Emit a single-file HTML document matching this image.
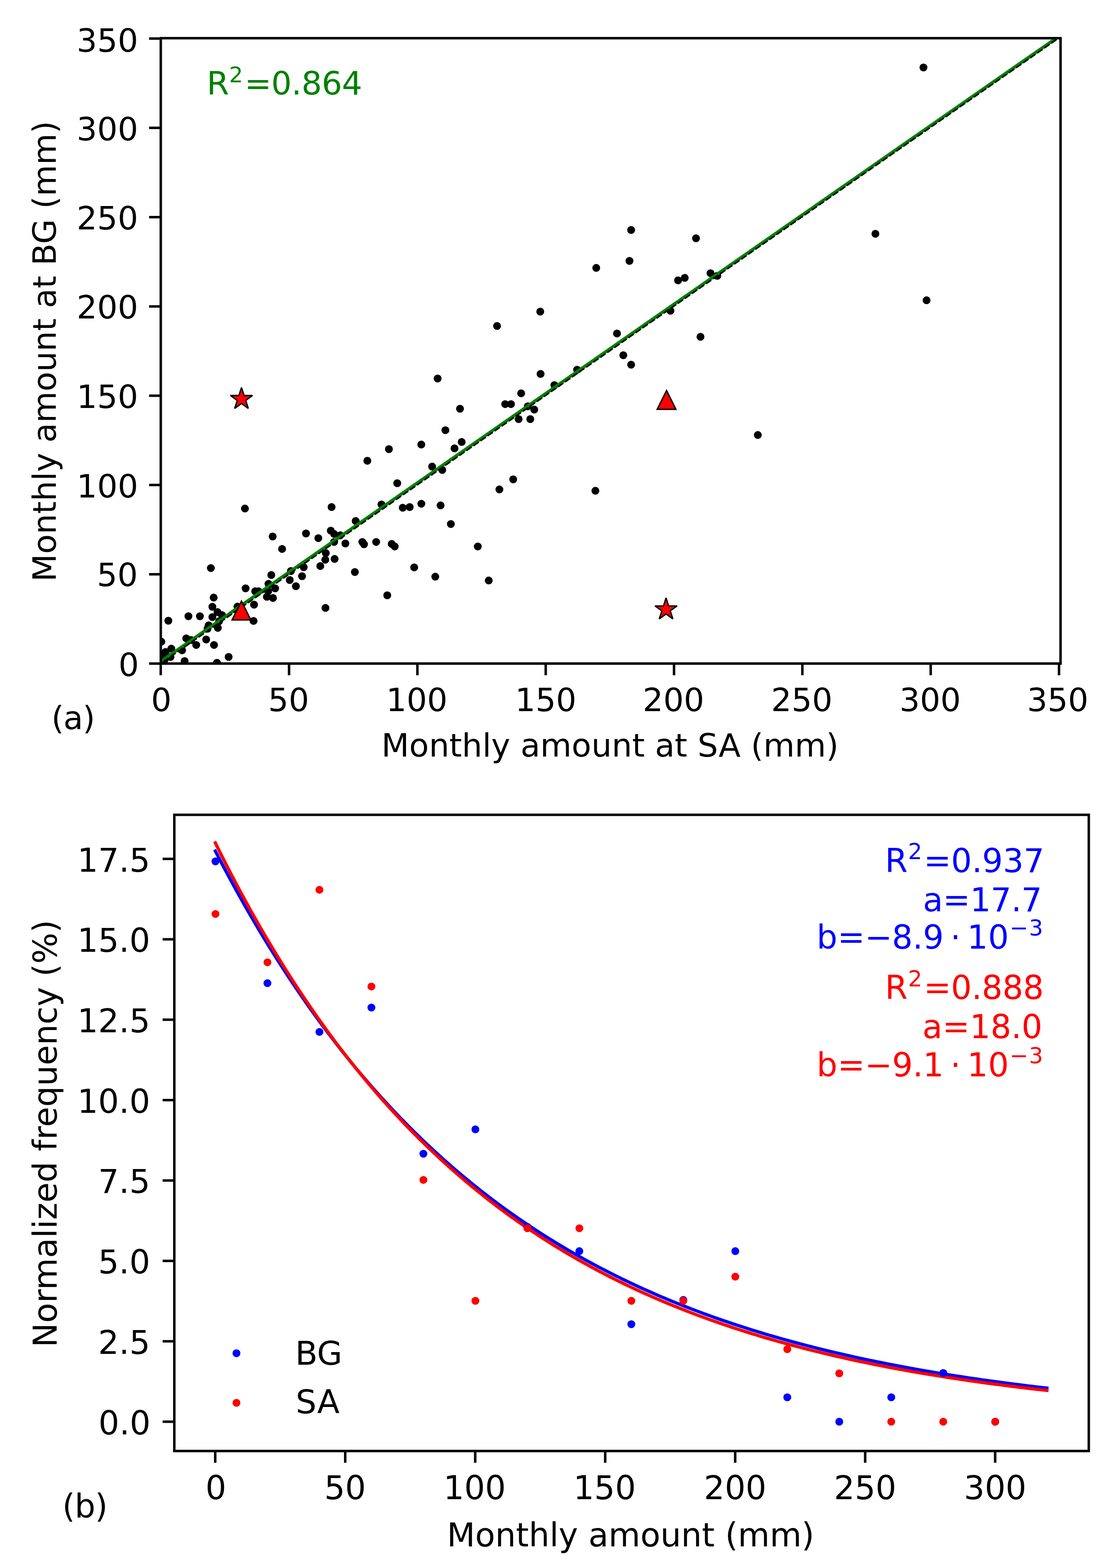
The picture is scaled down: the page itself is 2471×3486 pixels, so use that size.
<!DOCTYPE html>
<html lang="en"><head><meta charset="utf-8"><title>Monthly amount scatter and frequency plots</title>
<style>html,body{margin:0;padding:0;background:#fff;}svg{display:block;}</style>
</head><body>
<svg width="2471" height="3486" viewBox="0 0 2471 3486">
<rect width="2471" height="3486" fill="#fff"/>
<svg x="357.6" y="84.9" width="2001.2" height="1390.3" viewBox="357.6 84.9 2001.2 1390.3" overflow="hidden">
<g fill="#000"><circle cx="544.7" cy="1130.6" r="8.75"/><circle cx="737.5" cy="1127.3" r="8.75"/><circle cx="883.5" cy="1074.3" r="8.75"/><circle cx="848.4" cy="1121.4" r="8.75"/><circle cx="895.7" cy="1128.8" r="8.75"/><circle cx="911.2" cy="1127.3" r="8.75"/><circle cx="937.1" cy="1119.9" r="8.75"/><circle cx="791.1" cy="1158.3" r="8.75"/><circle cx="606.4" cy="1192.7" r="8.75"/><circle cx="680.6" cy="1186" r="8.75"/><circle cx="708" cy="1196.4" r="8.75"/><circle cx="735.7" cy="1179.8" r="8.75"/><circle cx="743.1" cy="1187.1" r="8.75"/><circle cx="756.8" cy="1190.1" r="8.75"/><circle cx="743.1" cy="1204.9" r="8.75"/><circle cx="768.2" cy="1208.2" r="8.75"/><circle cx="805.9" cy="1204.9" r="8.75"/><circle cx="809.6" cy="1210" r="8.75"/><circle cx="836.6" cy="1204.9" r="8.75"/><circle cx="871.3" cy="1209.3" r="8.75"/><circle cx="877.9" cy="1214.9" r="8.75"/><circle cx="627.4" cy="1220.4" r="8.75"/><circle cx="724.6" cy="1229.6" r="8.75"/><circle cx="723.5" cy="1244.4" r="8.75"/><circle cx="744.2" cy="1242.6" r="8.75"/><circle cx="712.4" cy="1258.4" r="8.75"/><circle cx="921.2" cy="1261.4" r="8.75"/><circle cx="789.3" cy="1271.7" r="8.75"/><circle cx="469" cy="1262.9" r="8.75"/><circle cx="675.5" cy="1261" r="8.75"/><circle cx="647" cy="1269.5" r="8.75"/><circle cx="671.8" cy="1281" r="8.75"/><circle cx="603.4" cy="1278.4" r="8.75"/><circle cx="644.4" cy="1289.5" r="8.75"/><circle cx="658.1" cy="1303.2" r="8.75"/><circle cx="597.1" cy="1298" r="8.75"/><circle cx="611.9" cy="1308" r="8.75"/><circle cx="546.2" cy="1308" r="8.75"/><circle cx="567.6" cy="1314.6" r="8.75"/><circle cx="575" cy="1314.6" r="8.75"/><circle cx="596.4" cy="1314.6" r="8.75"/><circle cx="593.5" cy="1326.8" r="8.75"/><circle cx="607.1" cy="1329.4" r="8.75"/><circle cx="861.3" cy="1323.5" r="8.75"/><circle cx="723.9" cy="1351.6" r="8.75"/><circle cx="475.2" cy="1328.6" r="8.75"/><circle cx="472.3" cy="1349" r="8.75"/><circle cx="565" cy="1344.2" r="8.75"/><circle cx="483.7" cy="1360.8" r="8.75"/><circle cx="493.7" cy="1367.4" r="8.75"/><circle cx="472.3" cy="1371.9" r="8.75"/><circle cx="419.1" cy="1370" r="8.75"/><circle cx="444.6" cy="1370" r="8.75"/><circle cx="374.4" cy="1380" r="8.75"/><circle cx="487.4" cy="1381.1" r="8.75"/><circle cx="563.9" cy="1380.4" r="8.75"/><circle cx="528.1" cy="1348.6" r="8.75"/><circle cx="464.1" cy="1390.3" r="8.75"/><circle cx="461.6" cy="1397.7" r="8.75"/><circle cx="484.5" cy="1395.9" r="8.75"/><circle cx="414.3" cy="1419.2" r="8.75"/><circle cx="425.3" cy="1422.9" r="8.75"/><circle cx="458.6" cy="1421.7" r="8.75"/><circle cx="436.4" cy="1433.9" r="8.75"/><circle cx="476" cy="1433.9" r="8.75"/><circle cx="358.8" cy="1426.6" r="8.75"/><circle cx="405" cy="1445.8" r="8.75"/><circle cx="381" cy="1442.1" r="8.75"/><circle cx="368.1" cy="1449.5" r="8.75"/><circle cx="379.2" cy="1460.5" r="8.75"/><circle cx="508.5" cy="1460.5" r="8.75"/><circle cx="410.6" cy="1469.8" r="8.75"/><circle cx="482.6" cy="1473.5" r="8.75"/><circle cx="362" cy="1459" r="8.75"/><circle cx="366" cy="1467" r="8.75"/><circle cx="979.9" cy="1123.6" r="8.75"/><circle cx="1110.7" cy="1088.1" r="8.75"/><circle cx="1324.2" cy="1091.1" r="8.75"/><circle cx="1002.8" cy="1165" r="8.75"/><circle cx="1062.7" cy="1214.9" r="8.75"/><circle cx="968.1" cy="1282.1" r="8.75"/><circle cx="1087" cy="1290.6" r="8.75"/><circle cx="1201.6" cy="692.7" r="8.75"/><circle cx="1105.5" cy="724.8" r="8.75"/><circle cx="1372.3" cy="741.4" r="8.75"/><circle cx="973.3" cy="841.5" r="8.75"/><circle cx="1386.3" cy="789.8" r="8.75"/><circle cx="1403.7" cy="810.8" r="8.75"/><circle cx="1202.3" cy="831.2" r="8.75"/><circle cx="1283.6" cy="821.9" r="8.75"/><circle cx="1233" cy="856.3" r="8.75"/><circle cx="1159.1" cy="874.4" r="8.75"/><circle cx="1023.1" cy="908.7" r="8.75"/><circle cx="1123.6" cy="898.4" r="8.75"/><circle cx="1136.5" cy="898.4" r="8.75"/><circle cx="1173.9" cy="903.2" r="8.75"/><circle cx="1188.3" cy="910.6" r="8.75"/><circle cx="1153.5" cy="931.7" r="8.75"/><circle cx="1179.4" cy="931.7" r="8.75"/><circle cx="990.6" cy="956.4" r="8.75"/><circle cx="1026.8" cy="982.6" r="8.75"/><circle cx="1010.9" cy="996.7" r="8.75"/><circle cx="961.1" cy="1037.3" r="8.75"/><circle cx="983.6" cy="1044.7" r="8.75"/><circle cx="1141.4" cy="1065.8" r="8.75"/><circle cx="817" cy="1024.4" r="8.75"/><circle cx="865" cy="998.5" r="8.75"/><circle cx="937" cy="988.2" r="8.75"/><circle cx="1548" cy="529.8" r="8.75"/><circle cx="1508.1" cy="623.3" r="8.75"/><circle cx="1522.9" cy="617.7" r="8.75"/><circle cx="1580.2" cy="607.4" r="8.75"/><circle cx="1595.3" cy="613.3" r="8.75"/><circle cx="1947" cy="519.8" r="8.75"/><circle cx="2060.8" cy="667.6" r="8.75"/><circle cx="1491.2" cy="690.9" r="8.75"/><circle cx="1403.7" cy="511.3" r="8.75"/><circle cx="1400" cy="580" r="8.75"/><circle cx="1326.1" cy="595.6" r="8.75"/><circle cx="1558" cy="748.8" r="8.75"/><circle cx="1685.5" cy="967.1" r="8.75"/><circle cx="2053.9" cy="150" r="8.75"/></g>
<line x1="347.6" y1="1477.55" x2="2368.8" y2="71.19" stroke="#008000" stroke-width="7.1"/>
<line x1="347.6" y1="1482.11" x2="2368.8" y2="74.75" stroke="#000" stroke-width="3.5" stroke-dasharray="14.2 4.9"/>
</svg>
<polygon points="537,1336.4 516.1,1378.2 557.9,1378.2" fill="#ff0000" stroke="#000" stroke-width="3.0" stroke-linejoin="miter" stroke-miterlimit="10"/>
<polygon points="1482.5,868.2 1461.6,910 1503.4,910" fill="#ff0000" stroke="#000" stroke-width="3.0" stroke-linejoin="miter" stroke-miterlimit="10"/>
<polygon points="537.1,861.4 531.31,879.23 512.56,879.23 527.73,890.25 521.94,908.07 537.1,897.05 552.26,908.07 546.47,890.25 561.64,879.23 542.89,879.23" fill="#ff0000" stroke="#000" stroke-width="3.0" stroke-linejoin="bevel"/>
<polygon points="1481.4,1329.3 1475.61,1347.13 1456.86,1347.13 1472.03,1358.15 1466.24,1375.97 1481.4,1364.95 1496.56,1375.97 1490.77,1358.15 1505.94,1347.13 1487.19,1347.13" fill="#ff0000" stroke="#000" stroke-width="3.0" stroke-linejoin="bevel"/>
<rect x="357.6" y="84.9" width="2001.2" height="1390.3" fill="none" stroke="#000" stroke-width="5.5" stroke-linejoin="miter"/>
<path d="M357.5 1475.2V1501.2M357.6 1475.25H331.6M642.91 1475.2V1501.2M357.6 1276.74H331.6M928.33 1475.2V1501.2M357.6 1078.22H331.6M1213.74 1475.2V1501.2M357.6 879.71H331.6M1499.16 1475.2V1501.2M357.6 681.19H331.6M1784.58 1475.2V1501.2M357.6 482.68H331.6M2069.99 1475.2V1501.2M357.6 284.16H331.6M2355.41 1475.2V1501.2M357.6 85.64H331.6" stroke="#000" stroke-width="5.5" fill="none"/>
<svg x="387.7" y="1811.5" width="2033.9" height="1414.4" viewBox="387.7 1811.5 2033.9 1414.4" overflow="hidden">
<path d="M477.3 1888.89 L486.57 1906.83 L495.85 1924.51 L505.12 1941.94 L514.39 1959.12 L523.67 1976.06 L532.94 1992.77 L542.21 2009.23 L551.49 2025.47 L560.76 2041.48 L570.03 2057.26 L579.31 2072.82 L588.58 2088.16 L597.86 2103.28 L607.13 2118.19 L616.4 2132.89 L625.68 2147.38 L634.95 2161.67 L644.22 2175.76 L653.5 2189.64 L662.77 2203.34 L672.04 2216.83 L681.32 2230.14 L690.59 2243.26 L699.86 2256.2 L709.14 2268.95 L718.41 2281.53 L727.68 2293.92 L736.96 2306.15 L746.23 2318.2 L755.5 2330.07 L764.78 2341.79 L774.05 2353.33 L783.33 2364.72 L792.6 2375.94 L801.87 2387.01 L811.15 2397.92 L820.42 2408.67 L829.69 2419.27 L838.97 2429.73 L848.24 2440.04 L857.51 2450.2 L866.79 2460.22 L876.06 2470.09 L885.33 2479.83 L894.61 2489.43 L903.88 2498.9 L913.15 2508.23 L922.43 2517.43 L931.7 2526.5 L940.98 2535.44 L950.25 2544.26 L959.52 2552.95 L968.8 2561.52 L978.07 2569.97 L987.34 2578.3 L996.62 2586.51 L1005.89 2594.6 L1015.16 2602.59 L1024.44 2610.45 L1033.71 2618.21 L1042.98 2625.86 L1052.26 2633.4 L1061.53 2640.84 L1070.8 2648.17 L1080.08 2655.4 L1089.35 2662.52 L1098.62 2669.54 L1107.9 2676.47 L1117.17 2683.3 L1126.44 2690.03 L1135.72 2696.67 L1144.99 2703.21 L1154.27 2709.66 L1163.54 2716.02 L1172.81 2722.29 L1182.09 2728.47 L1191.36 2734.57 L1200.63 2740.57 L1209.91 2746.5 L1219.18 2752.34 L1228.45 2758.1 L1237.73 2763.77 L1247 2769.37 L1256.27 2774.89 L1265.55 2780.33 L1274.82 2785.69 L1284.09 2790.98 L1293.37 2796.19 L1302.64 2801.33 L1311.91 2806.4 L1321.19 2811.39 L1330.46 2816.32 L1339.74 2821.18 L1349.01 2825.96 L1358.28 2830.68 L1367.56 2835.34 L1376.83 2839.92 L1386.1 2844.45 L1395.38 2848.91 L1404.65 2853.3 L1413.92 2857.64 L1423.2 2861.91 L1432.47 2866.12 L1441.74 2870.28 L1451.02 2874.37 L1460.29 2878.41 L1469.56 2882.39 L1478.84 2886.31 L1488.11 2890.18 L1497.38 2894 L1506.66 2897.76 L1515.93 2901.46 L1525.21 2905.12 L1534.48 2908.72 L1543.75 2912.28 L1553.03 2915.78 L1562.3 2919.23 L1571.57 2922.64 L1580.85 2925.99 L1590.12 2929.3 L1599.39 2932.57 L1608.67 2935.78 L1617.94 2938.95 L1627.21 2942.08 L1636.49 2945.16 L1645.76 2948.2 L1655.03 2951.2 L1664.31 2954.15 L1673.58 2957.07 L1682.86 2959.94 L1692.13 2962.77 L1701.4 2965.56 L1710.68 2968.31 L1719.95 2971.02 L1729.22 2973.7 L1738.5 2976.33 L1747.77 2978.93 L1757.04 2981.5 L1766.32 2984.02 L1775.59 2986.51 L1784.86 2988.97 L1794.14 2991.39 L1803.41 2993.78 L1812.68 2996.13 L1821.96 2998.45 L1831.23 3000.74 L1840.5 3003 L1849.78 3005.22 L1859.05 3007.41 L1868.33 3009.57 L1877.6 3011.7 L1886.87 3013.81 L1896.15 3015.88 L1905.42 3017.92 L1914.69 3019.93 L1923.97 3021.92 L1933.24 3023.87 L1942.51 3025.8 L1951.79 3027.7 L1961.06 3029.58 L1970.33 3031.43 L1979.61 3033.25 L1988.88 3035.05 L1998.15 3036.82 L2007.43 3038.57 L2016.7 3040.29 L2025.97 3041.99 L2035.25 3043.66 L2044.52 3045.31 L2053.8 3046.94 L2063.07 3048.54 L2072.34 3050.12 L2081.62 3051.68 L2090.89 3053.22 L2100.16 3054.74 L2109.44 3056.23 L2118.71 3057.7 L2127.98 3059.15 L2137.26 3060.59 L2146.53 3062 L2155.8 3063.39 L2165.08 3064.76 L2174.35 3066.11 L2183.62 3067.45 L2192.9 3068.76 L2202.17 3070.06 L2211.44 3071.34 L2220.72 3072.6 L2229.99 3073.84 L2239.26 3075.06 L2248.54 3076.27 L2257.81 3077.46 L2267.09 3078.64 L2276.36 3079.79 L2285.63 3080.93 L2294.91 3082.06 L2304.18 3083.17 L2313.45 3084.26 L2322.73 3085.34 L2332 3086.4" stroke="#0000ff" stroke-width="7.1" fill="none"/>
<path d="M477.3 1870.66 L486.57 1889.4 L495.85 1907.87 L505.12 1926.07 L514.39 1944.01 L523.67 1961.69 L532.94 1979.11 L542.21 1996.27 L551.49 2013.19 L560.76 2029.86 L570.03 2046.29 L579.31 2062.48 L588.58 2078.43 L597.86 2094.16 L607.13 2109.65 L616.4 2124.92 L625.68 2139.97 L634.95 2154.8 L644.22 2169.41 L653.5 2183.81 L662.77 2198.01 L672.04 2211.99 L681.32 2225.77 L690.59 2239.36 L699.86 2252.74 L709.14 2265.93 L718.41 2278.93 L727.68 2291.74 L736.96 2304.37 L746.23 2316.81 L755.5 2329.07 L764.78 2341.15 L774.05 2353.06 L783.33 2364.79 L792.6 2376.35 L801.87 2387.75 L811.15 2398.98 L820.42 2410.04 L829.69 2420.95 L838.97 2431.7 L848.24 2442.29 L857.51 2452.72 L866.79 2463.01 L876.06 2473.14 L885.33 2483.13 L894.61 2492.98 L903.88 2502.68 L913.15 2512.24 L922.43 2521.66 L931.7 2530.94 L940.98 2540.09 L950.25 2549.11 L959.52 2557.99 L968.8 2566.75 L978.07 2575.38 L987.34 2583.88 L996.62 2592.26 L1005.89 2600.52 L1015.16 2608.66 L1024.44 2616.68 L1033.71 2624.58 L1042.98 2632.37 L1052.26 2640.05 L1061.53 2647.61 L1070.8 2655.06 L1080.08 2662.41 L1089.35 2669.65 L1098.62 2676.78 L1107.9 2683.81 L1117.17 2690.74 L1126.44 2697.57 L1135.72 2704.3 L1144.99 2710.93 L1154.27 2717.46 L1163.54 2723.9 L1172.81 2730.25 L1182.09 2736.5 L1191.36 2742.66 L1200.63 2748.74 L1209.91 2754.72 L1219.18 2760.62 L1228.45 2766.43 L1237.73 2772.16 L1247 2777.8 L1256.27 2783.37 L1265.55 2788.85 L1274.82 2794.25 L1284.09 2799.58 L1293.37 2804.82 L1302.64 2809.99 L1311.91 2815.09 L1321.19 2820.11 L1330.46 2825.06 L1339.74 2829.93 L1349.01 2834.74 L1358.28 2839.47 L1367.56 2844.14 L1376.83 2848.74 L1386.1 2853.27 L1395.38 2857.74 L1404.65 2862.14 L1413.92 2866.48 L1423.2 2870.75 L1432.47 2874.96 L1441.74 2879.11 L1451.02 2883.21 L1460.29 2887.24 L1469.56 2891.21 L1478.84 2895.12 L1488.11 2898.98 L1497.38 2902.78 L1506.66 2906.53 L1515.93 2910.22 L1525.21 2913.86 L1534.48 2917.45 L1543.75 2920.98 L1553.03 2924.47 L1562.3 2927.9 L1571.57 2931.28 L1580.85 2934.61 L1590.12 2937.9 L1599.39 2941.13 L1608.67 2944.32 L1617.94 2947.47 L1627.21 2950.57 L1636.49 2953.62 L1645.76 2956.63 L1655.03 2959.59 L1664.31 2962.51 L1673.58 2965.39 L1682.86 2968.23 L1692.13 2971.03 L1701.4 2973.78 L1710.68 2976.5 L1719.95 2979.17 L1729.22 2981.81 L1738.5 2984.41 L1747.77 2986.97 L1757.04 2989.49 L1766.32 2991.98 L1775.59 2994.43 L1784.86 2996.85 L1794.14 2999.23 L1803.41 3001.57 L1812.68 3003.89 L1821.96 3006.16 L1831.23 3008.41 L1840.5 3010.62 L1849.78 3012.8 L1859.05 3014.95 L1868.33 3017.07 L1877.6 3019.16 L1886.87 3021.21 L1896.15 3023.24 L1905.42 3025.24 L1914.69 3027.2 L1923.97 3029.14 L1933.24 3031.05 L1942.51 3032.94 L1951.79 3034.79 L1961.06 3036.62 L1970.33 3038.43 L1979.61 3040.2 L1988.88 3041.95 L1998.15 3043.68 L2007.43 3045.38 L2016.7 3047.05 L2025.97 3048.7 L2035.25 3050.33 L2044.52 3051.93 L2053.8 3053.51 L2063.07 3055.07 L2072.34 3056.61 L2081.62 3058.12 L2090.89 3059.61 L2100.16 3061.08 L2109.44 3062.52 L2118.71 3063.95 L2127.98 3065.36 L2137.26 3066.74 L2146.53 3068.11 L2155.8 3069.45 L2165.08 3070.78 L2174.35 3072.08 L2183.62 3073.37 L2192.9 3074.64 L2202.17 3075.89 L2211.44 3077.12 L2220.72 3078.34 L2229.99 3079.53 L2239.26 3080.71 L2248.54 3081.87 L2257.81 3083.02 L2267.09 3084.15 L2276.36 3085.26 L2285.63 3086.36 L2294.91 3087.44 L2304.18 3088.5 L2313.45 3089.55 L2322.73 3090.58 L2332 3091.6" stroke="#ff0000" stroke-width="7.1" fill="none"/>
<g fill="#0000ff"><circle cx="479.2" cy="1915.04" r="8.75"/><circle cx="594.82" cy="2185.84" r="8.75"/><circle cx="710.44" cy="2294.15" r="8.75"/><circle cx="826.06" cy="2240" r="8.75"/><circle cx="941.68" cy="2564.95" r="8.75"/><circle cx="1057.3" cy="2510.79" r="8.75"/><circle cx="1172.92" cy="2727.43" r="8.75"/><circle cx="1288.54" cy="2781.59" r="8.75"/><circle cx="1404.16" cy="2944.06" r="8.75"/><circle cx="1519.78" cy="2889.9" r="8.75"/><circle cx="1635.4" cy="2781.59" r="8.75"/><circle cx="1751.02" cy="3106.54" r="8.75"/><circle cx="1866.64" cy="3160.7" r="8.75"/><circle cx="1982.26" cy="3106.54" r="8.75"/><circle cx="2097.88" cy="3052.38" r="8.75"/><circle cx="2213.5" cy="3160.7" r="8.75"/></g>
<g fill="#ff0000"><circle cx="479.2" cy="2031.91" r="8.75"/><circle cx="594.82" cy="2139.41" r="8.75"/><circle cx="710.44" cy="1978.16" r="8.75"/><circle cx="826.06" cy="2193.17" r="8.75"/><circle cx="941.68" cy="2623.18" r="8.75"/><circle cx="1057.3" cy="2891.94" r="8.75"/><circle cx="1172.92" cy="2730.68" r="8.75"/><circle cx="1288.54" cy="2730.68" r="8.75"/><circle cx="1404.16" cy="2891.94" r="8.75"/><circle cx="1519.78" cy="2891.94" r="8.75"/><circle cx="1635.4" cy="2838.19" r="8.75"/><circle cx="1751.02" cy="2999.44" r="8.75"/><circle cx="1866.64" cy="3053.2" r="8.75"/><circle cx="1982.26" cy="3160.7" r="8.75"/><circle cx="2097.88" cy="3160.7" r="8.75"/><circle cx="2213.5" cy="3160.7" r="8.75"/></g>
</svg>
<circle cx="525.9" cy="3008.5" r="8.75" fill="#0000ff"/>
<circle cx="525.9" cy="3118.8" r="8.75" fill="#ff0000"/>
<rect x="387.7" y="1811.5" width="2033.9" height="1414.4" fill="none" stroke="#000" stroke-width="5.5" stroke-linejoin="miter"/>
<path d="M478.7 3225.9V3251.9M767.82 3225.9V3251.9M1056.93 3225.9V3251.9M1346.05 3225.9V3251.9M1635.16 3225.9V3251.9M1924.28 3225.9V3251.9M2213.39 3225.9V3251.9M387.7 3160.7H361.7M387.7 2981.97H361.7M387.7 2803.25H361.7M387.7 2624.52H361.7M387.7 2445.8H361.7M387.7 2267.07H361.7M387.7 2088.35H361.7M387.7 1909.62H361.7" stroke="#000" stroke-width="5.5" fill="none"/>
<g font-family="'DejaVu Sans', 'Liberation Sans', sans-serif">
<text x="263.53" y="1503.05" font-size="71.6" fill="#000">0</text>
<text x="335.93" y="1580.8" font-size="71.6" fill="#000">0</text>
<text x="215.48" y="1303.44" font-size="71.6" fill="#000">50</text>
<text x="596.36" y="1580.8" font-size="71.6" fill="#000">50</text>
<text x="170.54" y="1105.82" font-size="71.6" fill="#000">100</text>
<text x="858.69" y="1580.8" font-size="71.6" fill="#000">100</text>
<text x="170.54" y="907.31" font-size="71.6" fill="#000">150</text>
<text x="1145.49" y="1580.8" font-size="71.6" fill="#000">150</text>
<text x="170.54" y="708.29" font-size="71.6" fill="#000">200</text>
<text x="1429.58" y="1580.8" font-size="71.6" fill="#000">200</text>
<text x="170.54" y="510.28" font-size="71.6" fill="#000">250</text>
<text x="1714.98" y="1580.8" font-size="71.6" fill="#000">250</text>
<text x="170.54" y="311.76" font-size="71.6" fill="#000">300</text>
<text x="2000.48" y="1580.8" font-size="71.6" fill="#000">300</text>
<text x="170.54" y="114.64" font-size="71.6" fill="#000">350</text>
<text x="2284.18" y="1580.8" font-size="71.6" fill="#000">350</text>
<text x="848.34" y="1682.1" font-size="71.6" fill="#000">Monthly amount at SA (mm)</text>
<text transform="translate(123.8 1293.36) rotate(-90)" font-size="71.6" fill="#000">Monthly amount at BG (mm)</text>
<text x="114.23" y="1621" font-size="71.6" fill="#000" textLength="97.44" lengthAdjust="spacing">(a)</text>
<text x="459.84" y="210.4" font-size="71.6" fill="#008000">R</text>
<text x="509.45" y="182.6" font-size="48.69" fill="#008000">2</text>
<text x="543.94" y="210.4" font-size="71.6" fill="#008000" textLength="261.99" lengthAdjust="spacing">=0.864</text>
<text x="219.12" y="3188.6" font-size="72.8" fill="#000">0.0</text>
<text x="218.22" y="3009.88" font-size="72.8" fill="#000">2.5</text>
<text x="218.22" y="2831.15" font-size="72.8" fill="#000">5.0</text>
<text x="218.22" y="2652.42" font-size="72.8" fill="#000">7.5</text>
<text x="171.91" y="2473.7" font-size="72.8" fill="#000">10.0</text>
<text x="171.91" y="2294.97" font-size="72.8" fill="#000">12.5</text>
<text x="171.91" y="2116.25" font-size="72.8" fill="#000">15.0</text>
<text x="171.91" y="1937.53" font-size="72.8" fill="#000">17.5</text>
<text x="456.95" y="3333" font-size="72.8" fill="#000">0</text>
<text x="721.3" y="3333" font-size="72.8" fill="#000">50</text>
<text x="986.15" y="3333" font-size="72.8" fill="#000">100</text>
<text x="1275.27" y="3333" font-size="72.8" fill="#000">150</text>
<text x="1565.59" y="3333" font-size="72.8" fill="#000">200</text>
<text x="1854.71" y="3333" font-size="72.8" fill="#000">250</text>
<text x="2143.82" y="3333" font-size="72.8" fill="#000">300</text>
<text x="994.02" y="3437.5" font-size="72.8" fill="#000">Monthly amount (mm)</text>
<text transform="translate(125.6 2995.38) rotate(-90)" font-size="72.8" fill="#000">Normalized frequency (%)</text>
<text x="138.43" y="3374.1" font-size="72.8" fill="#000" textLength="101.13" lengthAdjust="spacing">(b)</text>
<text x="656.42" y="3033.9" font-size="72.8" fill="#000">BG</text>
<text x="657.85" y="3142.1" font-size="72.8" fill="#000">SA</text>
<text x="1968.32" y="1938.7" font-size="72.8" fill="#0000ff">R</text>
<text x="2019.49" y="1909.5" font-size="49.5" fill="#0000ff">2</text>
<text x="2054.51" y="1938.7" font-size="72.8" fill="#0000ff" textLength="268.31" lengthAdjust="spacing">=0.937</text>
<text x="2052.85" y="2025.9" font-size="72.8" fill="#0000ff" textLength="265.08" lengthAdjust="spacing">a=17.7</text>
<text x="1816.33" y="2109.4" font-size="72.8" fill="#0000ff" textLength="107.39" lengthAdjust="spacing">b=</text>
<text x="1923.21" y="2109.4" font-size="72.8" fill="#0000ff" textLength="175.78" lengthAdjust="spacing">−8.9</text>
<text x="2113.41" y="2109.4" font-size="72.8" fill="#0000ff">⋅</text>
<text x="2151.01" y="2109.4" font-size="72.8" fill="#0000ff" textLength="92.86" lengthAdjust="spacing">10</text>
<text x="2245.64" y="2080.4" font-size="49.5" fill="#0000ff" textLength="74.45" lengthAdjust="spacing">−3</text>
<text x="1968.32" y="2220.8" font-size="72.8" fill="#ff0000">R</text>
<text x="2019.49" y="2192.5" font-size="49.5" fill="#ff0000">2</text>
<text x="2054.51" y="2220.8" font-size="72.8" fill="#ff0000" textLength="267.1" lengthAdjust="spacing">=0.888</text>
<text x="2051.55" y="2307.7" font-size="72.8" fill="#ff0000" textLength="266.77" lengthAdjust="spacing">a=18.0</text>
<text x="1816.33" y="2392.5" font-size="72.8" fill="#ff0000" textLength="107.39" lengthAdjust="spacing">b=</text>
<text x="1923.21" y="2392.5" font-size="72.8" fill="#ff0000" textLength="175.9" lengthAdjust="spacing">−9.1</text>
<text x="2113.41" y="2392.5" font-size="72.8" fill="#ff0000">⋅</text>
<text x="2151.01" y="2392.5" font-size="72.8" fill="#ff0000" textLength="92.86" lengthAdjust="spacing">10</text>
<text x="2245.64" y="2363.5" font-size="49.5" fill="#ff0000" textLength="74.45" lengthAdjust="spacing">−3</text>
</g></svg>
</body></html>
